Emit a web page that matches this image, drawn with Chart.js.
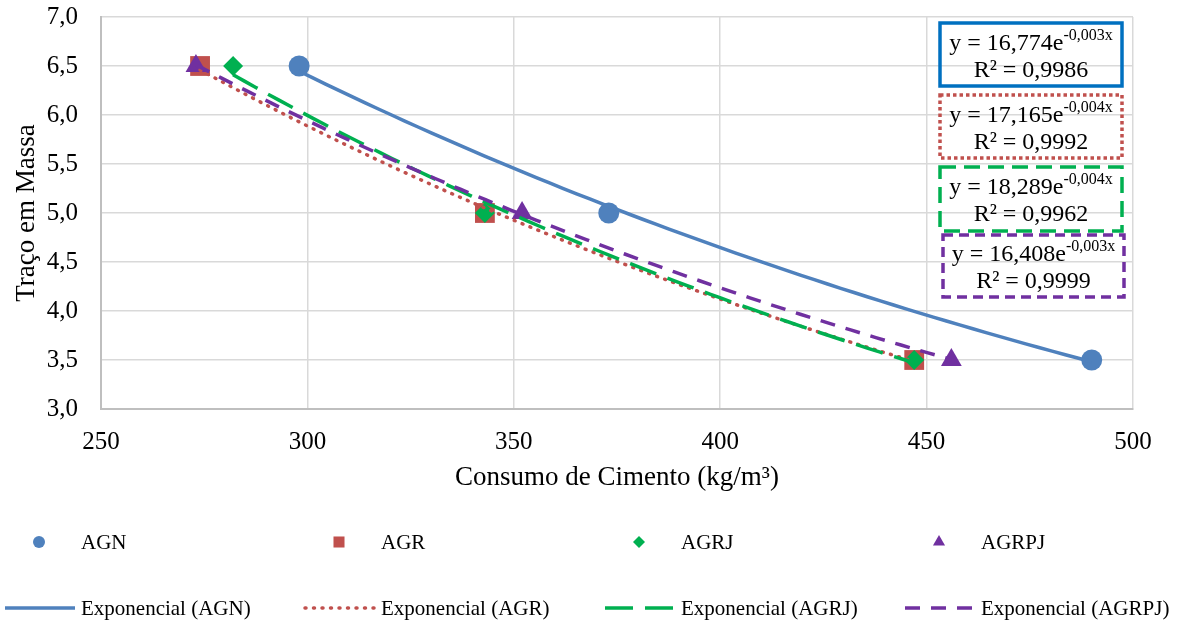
<!DOCTYPE html>
<html>
<head>
<meta charset="utf-8">
<script src="https://cdn.jsdelivr.net/npm/chart.js"></script>
<style>
  body { margin: 0; background: #fff; }
</style>
</head>
<body>
<canvas id="grafico" width="1183" height="621"></canvas>
<script>
// Consumo de cimento (kg/m³) x traço em massa
const series = ['AGN', 'AGR', 'AGRJ', 'AGRPJ'];
const consumoAGN = [298, 373, 490];
const consumoAGR = [274, 343, 447];
const consumoAGRJ = [282, 343, 447];
const consumoAGRPJ = [273, 352, 456];
const traco = [6.5, 5.0, 3.5];

const xTicks = [250, 300, 350, 400, 450, 500];
const yTicks = [3.0, 3.5, 4.0, 4.5, 5.0, 5.5, 6.0, 6.5, 7.0];

// textos das linhas de tendência
const eqCoef = ['16,774', '17,165', '18,289', '16,408'];
const eqExpo = ['-0,003x', '-0,004x', '-0,004x', '-0,003x'];
const eqR2 = ['0,9986', '0,9992', '0,9962', '0,9999'];

const cores = ['#4F81BD', '#C0504D', '#00B050', '#7030A0'];
const marcadores = ['circle', 'rect', 'rectRot', 'triangle'];
const raios = [10.5, 14, 10, 12];
const tracos = [[], [1, 7.5], [28, 12], [15, 11]];
const fonte = "'Liberation Serif', 'Times New Roman', serif";

const consumos = [consumoAGN, consumoAGR, consumoAGRJ, consumoAGRPJ];

// ajuste exponencial y = a*e^(bx) por mínimos quadrados em ln(y)
function ajusteExp(xs, ys) {
  const n = xs.length;
  const ly = ys.map(Math.log);
  const mx = xs.reduce((s, v) => s + v, 0) / n;
  const my = ly.reduce((s, v) => s + v, 0) / n;
  let sxy = 0, sxx = 0;
  for (let i = 0; i < n; i++) {
    sxy += (xs[i] - mx) * (ly[i] - my);
    sxx += (xs[i] - mx) * (xs[i] - mx);
  }
  const b = sxy / sxx;
  return { a: Math.exp(my - b * mx), b: b };
}

function curva(xs, ys) {
  const f = ajusteExp(xs, ys);
  const x0 = Math.min(...xs), x1 = Math.max(...xs);
  const pts = [];
  for (let i = 0; i <= 60; i++) {
    const x = x0 + (x1 - x0) * i / 60;
    pts.push({ x: x, y: f.a * Math.exp(f.b * x) });
  }
  return pts;
}

const datasets = [];
for (let s = 0; s < series.length; s++) {
  datasets.push({
    label: series[s],
    data: consumos[s].map((x, i) => ({ x: x, y: traco[i] })),
    showLine: false,
    pointStyle: marcadores[s],
    pointRadius: raios[s],
    pointHoverRadius: raios[s],
    backgroundColor: cores[s],
    borderColor: cores[s],
    pointBorderWidth: 0,
    order: 8 - s
  });
}
for (let s = 0; s < series.length; s++) {
  datasets.push({
    label: 'Exponencial (' + series[s] + ')',
    data: curva(consumos[s], traco),
    showLine: true,
    pointRadius: 0,
    pointHoverRadius: 0,
    borderColor: cores[s],
    borderWidth: 3.5,
    borderDash: tracos[s],
    borderCapStyle: s == 1 ? 'round' : 'butt',
    fill: false,
    tension: 0,
    order: 4 - s
  });
}

// legenda e caixas das equações
const extras = {
  id: 'extras',
  afterDraw(chart) {
    const ctx = chart.ctx;
    ctx.save();

    // caixas das equações
    const caixas = [
      { x: 940, y: 23, w: 182, h: 63, cor: '#0070C0', dash: [] },
      { x: 940, y: 95, w: 182, h: 63, cor: '#C0504D', dash: [3.5, 3] },
      { x: 940, y: 167, w: 182, h: 64, cor: '#00B050', dash: [16, 8] },
      { x: 943, y: 235, w: 181, h: 62, cor: '#7030A0', dash: [10, 6] }
    ];
    caixas.forEach((c, i) => {
      ctx.lineWidth = 3.5;
      ctx.strokeStyle = c.cor;
      ctx.setLineDash(c.dash);
      ctx.strokeRect(c.x, c.y, c.w, c.h);
      ctx.setLineDash([]);

      const cx = c.x + c.w / 2;
      const cy = c.y + c.h / 2;
      const base = 'y = ' + eqCoef[i] + 'e';
      ctx.fillStyle = '#000';
      ctx.textBaseline = 'alphabetic';
      ctx.font = '24px ' + fonte;
      const wb = ctx.measureText(base).width;
      ctx.font = '16px ' + fonte;
      const we = ctx.measureText(eqExpo[i]).width;
      const x0 = cx - (wb + we) / 2;
      ctx.textAlign = 'left';
      ctx.font = '24px ' + fonte;
      ctx.fillText(base, x0, cy - 5);
      ctx.font = '16px ' + fonte;
      ctx.fillText(eqExpo[i], x0 + wb, cy - 15);
      ctx.font = '24px ' + fonte;
      ctx.textAlign = 'center';
      ctx.fillText('R² = ' + eqR2[i], cx, cy + 22);
    });

    // legenda inferior
    const legRaios = [6, 7.8, 6, 7];
    ctx.font = '21px ' + fonte;
    ctx.textAlign = 'left';
    ctx.textBaseline = 'alphabetic';
    for (let s = 0; s < series.length; s++) {
      const dx = 300 * s;
      ctx.fillStyle = cores[s];
      ctx.strokeStyle = cores[s];
      Chart.helpers.drawPoint(ctx, { pointStyle: marcadores[s], radius: legRaios[s], rotation: 0, borderWidth: 0 }, 39 + dx, 542);
      ctx.fillStyle = '#000';
      ctx.fillText(series[s], 81 + dx, 549);

      ctx.beginPath();
      ctx.lineWidth = 3.5;
      ctx.strokeStyle = cores[s];
      ctx.setLineDash(tracos[s]);
      ctx.lineCap = s == 1 ? 'round' : 'butt';
      ctx.moveTo(5 + dx, 608);
      ctx.lineTo(75 + dx, 608);
      ctx.stroke();
      ctx.setLineDash([]);
      ctx.fillStyle = '#000';
      ctx.fillText('Exponencial (' + series[s] + ')', 81 + dx, 615);
    }
    ctx.restore();
  }
};

new Chart(document.getElementById('grafico'), {
  type: 'scatter',
  data: { datasets: datasets },
  options: {
    responsive: false,
    animation: false,
    layout: { padding: { top: 17, right: 50, left: 0, bottom: 0 } },
    plugins: {
      legend: { display: false },
      tooltip: { enabled: false }
    },
    scales: {
      x: {
        type: 'linear',
        min: 250,
        max: 500,
        afterBuildTicks: (s) => { s.ticks = xTicks.map(v => ({ value: v })); },
        afterFit: (s) => { s.height = 212; s.paddingLeft = 0; s.paddingRight = 0; },
        grid: { color: '#d9d9d9', lineWidth: 1.5, drawTicks: false },
        border: { color: '#bfbfbf', width: 2 },
        ticks: {
          padding: 18,
          color: '#000',
          font: { family: fonte, size: 25 },
          callback: (v) => String(v)
        },
        title: {
          display: true,
          text: 'Consumo de Cimento (kg/m³)',
          color: '#000',
          font: { family: fonte, size: 27 },
          padding: { top: 0, bottom: 127 }
        }
      },
      y: {
        type: 'linear',
        min: 3,
        max: 7,
        afterBuildTicks: (s) => { s.ticks = yTicks.map(v => ({ value: v })); },
        afterFit: (s) => { s.width = 101; s.paddingTop = 0; s.paddingBottom = 0; },
        grid: { color: '#d9d9d9', lineWidth: 1.5, drawTicks: false },
        border: { color: '#bfbfbf', width: 2 },
        ticks: {
          padding: 23,
          color: '#000',
          font: { family: fonte, size: 25 },
          callback: (v) => v.toFixed(1).replace('.', ',')
        },
        title: {
          display: true,
          text: 'Traço em Massa',
          color: '#000',
          font: { family: fonte, size: 27 },
          padding: { top: 11, bottom: 0 }
        }
      }
    }
  },
  plugins: [extras]
});
</script>
</body>
</html>
